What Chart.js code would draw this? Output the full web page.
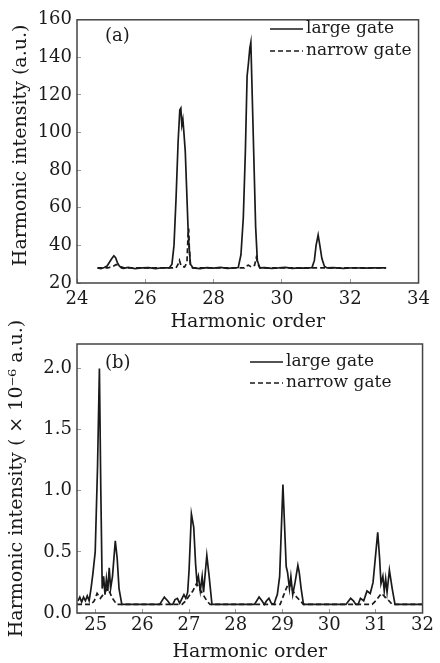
<!DOCTYPE html>
<html>
<head>
<meta charset="utf-8">
<script src="https://cdn.jsdelivr.net/npm/chart.js@4.4.1/dist/chart.umd.min.js"></script>
<style>
  body { margin: 0; background: #fff; }
  #wrap { position: relative; width: 440px; height: 663px; }
  #chartA { position: absolute; left: 0; top: 0; }
  #chartB { position: absolute; left: 0; top: 310px; }
</style>
</head>
<body>
<div id="wrap">
  <canvas id="chartA" width="440" height="330"></canvas>
  <canvas id="chartB" width="440" height="353"></canvas>
</div>
<script>
// panel (a): [harmonic order, intensity a.u.]
const largeGateA = [
  [24.6, 28], [24.7, 27.6], [24.8, 28.2], [24.88, 29], [24.95, 31], [25.02, 33], [25.08, 34.5],
  [25.13, 33.5], [25.18, 31], [25.24, 29], [25.3, 28], [25.36, 27.8], [25.5, 28.3], [25.7, 27.7],
  [25.9, 28], [26.1, 28.2], [26.3, 27.7], [26.5, 28.1], [26.7, 28], [26.78, 30], [26.84, 40],
  [26.9, 65], [26.96, 95], [27.01, 112], [27.04, 113], [27.07, 104], [27.1, 107], [27.13, 100],
  [27.17, 90], [27.21, 70], [27.26, 45], [27.32, 30], [27.4, 28], [27.6, 27.7], [27.8, 28.2],
  [28.0, 27.9], [28.2, 28.3], [28.4, 27.8], [28.6, 28], [28.72, 28.2], [28.8, 35], [28.87, 55],
  [28.93, 90], [28.98, 130], [29.02, 137], [29.06, 145], [29.09, 148], [29.13, 120], [29.18, 85],
  [29.23, 50], [29.28, 32], [29.35, 28], [29.5, 28.2], [29.7, 27.8], [29.9, 28], [30.1, 28.3],
  [30.3, 27.8], [30.5, 28], [30.7, 27.9], [30.88, 28.2], [30.95, 32], [31.0, 40], [31.06, 45.5],
  [31.11, 40], [31.17, 33], [31.24, 29], [31.32, 28], [31.5, 28.2], [31.8, 27.8], [32.1, 28.1],
  [32.4, 27.9], [32.7, 28], [33.05, 28]
];
const narrowGateA = [
  [24.6, 28], [24.9, 28], [25.05, 28.8], [25.15, 29.8], [25.25, 28.8], [25.4, 28], [26.9, 28],
  [26.96, 30], [27.0, 32], [27.05, 29], [27.15, 28.5], [27.22, 31], [27.25, 45], [27.27, 49],
  [27.29, 38], [27.32, 30], [27.38, 28], [28.9, 28], [28.95, 29], [29.02, 29.5], [29.1, 28.5],
  [29.2, 29.5], [29.25, 33.5], [29.3, 30], [29.36, 28], [33.05, 28]
];

// panel (b): [harmonic order, intensity x1e-6 a.u.]
const largeGateB = [
  [24.62, 0.1], [24.66, 0.13], [24.7, 0.09], [24.74, 0.13], [24.78, 0.1], [24.82, 0.14], [24.86, 0.1],
  [24.9, 0.2], [24.94, 0.32], [24.99, 0.5], [25.04, 1.2], [25.08, 2.0], [25.11, 1.0], [25.14, 0.2],
  [25.17, 0.3], [25.2, 0.15], [25.23, 0.28], [25.26, 0.18], [25.29, 0.37], [25.32, 0.2], [25.36, 0.3],
  [25.42, 0.59], [25.46, 0.45], [25.5, 0.2], [25.56, 0.07], [26.37, 0.07], [26.47, 0.13], [26.54, 0.1],
  [26.6, 0.07], [26.65, 0.07], [26.7, 0.11], [26.75, 0.12], [26.8, 0.08], [26.85, 0.12], [26.89, 0.15],
  [26.93, 0.12], [26.97, 0.17], [27.0, 0.35], [27.05, 0.81], [27.1, 0.7], [27.14, 0.4], [27.17, 0.25],
  [27.2, 0.3], [27.24, 0.18], [27.28, 0.3], [27.31, 0.17], [27.34, 0.3], [27.38, 0.47], [27.43, 0.3],
  [27.49, 0.07], [28.4, 0.07], [28.5, 0.13], [28.56, 0.1], [28.61, 0.07], [28.66, 0.1], [28.71, 0.12],
  [28.76, 0.08], [28.82, 0.07], [28.86, 0.12], [28.89, 0.15], [28.94, 0.3], [29.01, 1.05], [29.08, 0.38],
  [29.11, 0.33], [29.15, 0.2], [29.18, 0.3], [29.22, 0.15], [29.27, 0.25], [29.33, 0.39], [29.36, 0.33],
  [29.4, 0.2], [29.45, 0.07], [30.36, 0.07], [30.46, 0.12], [30.52, 0.1], [30.57, 0.07], [30.62, 0.07],
  [30.67, 0.12], [30.74, 0.1], [30.81, 0.18], [30.88, 0.16], [30.94, 0.25], [31.04, 0.66], [31.08, 0.45],
  [31.11, 0.24], [31.15, 0.3], [31.18, 0.18], [31.21, 0.28], [31.24, 0.17], [31.29, 0.35], [31.35, 0.2],
  [31.41, 0.07], [32, 0.07]
];
const narrowGateB = [
  [24.6, 0.07], [24.9, 0.07], [24.97, 0.1], [25.03, 0.16], [25.1, 0.12], [25.18, 0.16], [25.25, 0.2],
  [25.3, 0.17], [25.36, 0.12], [25.45, 0.07], [26.85, 0.07], [26.93, 0.1], [27.0, 0.14], [27.08, 0.18],
  [27.16, 0.24], [27.22, 0.2], [27.3, 0.15], [27.38, 0.1], [27.45, 0.07], [28.95, 0.07], [29.02, 0.14],
  [29.08, 0.2], [29.14, 0.25], [29.2, 0.2], [29.28, 0.14], [29.38, 0.1], [29.45, 0.07], [30.92, 0.07],
  [31.0, 0.1], [31.06, 0.13], [31.12, 0.16], [31.2, 0.13], [31.28, 0.1], [31.35, 0.07], [32, 0.07]
];

const seriesLabels = ["large gate", "narrow gate"];
const xTitle = "Harmonic order";
const yTitleA = "  Harmonic intensity (a.u.)";
const yTitleB = "Harmonic intensity ( \u00d7 10\u207b\u2076 a.u.)";

const FONT = "'DejaVu Serif', 'Liberation Serif', serif";
const INK = "#1a1a1a";

const toPoints = (pairs) => pairs.map(([x, y]) => ({ x, y }));

// frame, panel tag and an in-plot legend
const panelPlugin = {
  id: "panel",
  afterDraw(chart, args, opts) {
    const { ctx, chartArea: a } = chart;
    ctx.save();
    ctx.strokeStyle = "#444";
    ctx.lineWidth = 1.5;
    ctx.strokeRect(a.left, a.top, a.right - a.left, a.bottom - a.top);

    ctx.fillStyle = INK;
    ctx.font = "18px " + FONT;
    ctx.textBaseline = "middle";
    ctx.textAlign = "left";
    ctx.fillText(opts.tag, opts.tagX, opts.tagY);

    ctx.font = "17px " + FONT;
    chart.data.datasets.forEach((ds, i) => {
      const y = opts.legendY + i * opts.rowGap;
      ctx.beginPath();
      ctx.setLineDash(ds.borderDash || []);
      ctx.lineWidth = ds.borderWidth;
      ctx.strokeStyle = ds.borderColor;
      ctx.moveTo(opts.legendX, y);
      ctx.lineTo(opts.legendX + opts.sampleW, y);
      ctx.stroke();
      ctx.setLineDash([]);
      ctx.fillText(ds.label, opts.legendX + opts.sampleW + 3, y);
    });
    ctx.restore();
  },
};

function makeChart(id, large, narrow, cfg) {
  return new Chart(document.getElementById(id), {
    type: "line",
    data: {
      datasets: [
        { label: seriesLabels[0], data: toPoints(large), borderColor: INK, borderWidth: 1.7, pointRadius: 0, tension: 0 },
        { label: seriesLabels[1], data: toPoints(narrow), borderColor: INK, borderWidth: 1.7, borderDash: [5, 3], pointRadius: 0, tension: 0 },
      ],
    },
    options: {
      responsive: false,
      animation: false,
      events: [],
      layout: { padding: { left: 0, right: 15, top: cfg.top, bottom: 0 } },
      plugins: { legend: { display: false }, tooltip: { enabled: false }, panel: cfg.panel },
      scales: {
        x: {
          type: "linear",
          min: cfg.xMin, max: cfg.xMax,
          border: { display: false },
          grid: { drawOnChartArea: false, drawTicks: true, tickLength: -4, color: "#999" },
          ticks: { stepSize: cfg.xStep, includeBounds: false, padding: cfg.xTickPad, color: INK, font: { family: FONT, size: 18 }, maxRotation: 0 },
          title: { display: true, text: xTitle, color: INK, font: { family: FONT, size: 19 }, padding: { top: 0, bottom: cfg.xTitlePad } },
          afterFit: (scale) => { scale.height = cfg.xHeight; },
        },
        y: {
          min: cfg.yMin, max: cfg.yMax,
          border: { display: false },
          grid: { drawOnChartArea: false, drawTicks: true, tickLength: -4, color: "#999" },
          ticks: { stepSize: cfg.yStep, includeBounds: false, padding: 9, color: INK, font: { family: FONT, size: 18 }, callback: cfg.yFormat },
          title: { display: true, text: cfg.yTitle, color: INK, font: { family: FONT, size: 19 }, padding: { top: cfg.yTitlePad, bottom: 0 } },
          afterFit: (scale) => { scale.width = 77; },
        },
      },
    },
    plugins: [panelPlugin],
  });
}

makeChart("chartA", largeGateA, narrowGateA, {
  top: 14, xHeight: 47, xTickPad: 10, xTitlePad: -3,
  xMin: 24, xMax: 34, xStep: 2,
  yMin: 20, yMax: 160, yStep: 20, yTitle: yTitleA, yTitlePad: 10,
  yFormat: (v) => v,
  panel: { tag: "(a)", tagX: 105, tagY: 36, legendX: 270, legendY: 29, rowGap: 22, sampleW: 33 },
});

makeChart("chartB", largeGateB, narrowGateB, {
  top: 34, xHeight: 50, xTickPad: 6, xTitlePad: 0,
  xMin: 24.6, xMax: 32, xStep: 1,
  yMin: 0, yMax: 2.2, yStep: 0.5, yTitle: yTitleB, yTitlePad: 6,
  yFormat: (v) => v.toFixed(1),
  panel: { tag: "(b)", tagX: 105, tagY: 53, legendX: 250, legendY: 52, rowGap: 21, sampleW: 33 },
});
</script>
</body>
</html>
